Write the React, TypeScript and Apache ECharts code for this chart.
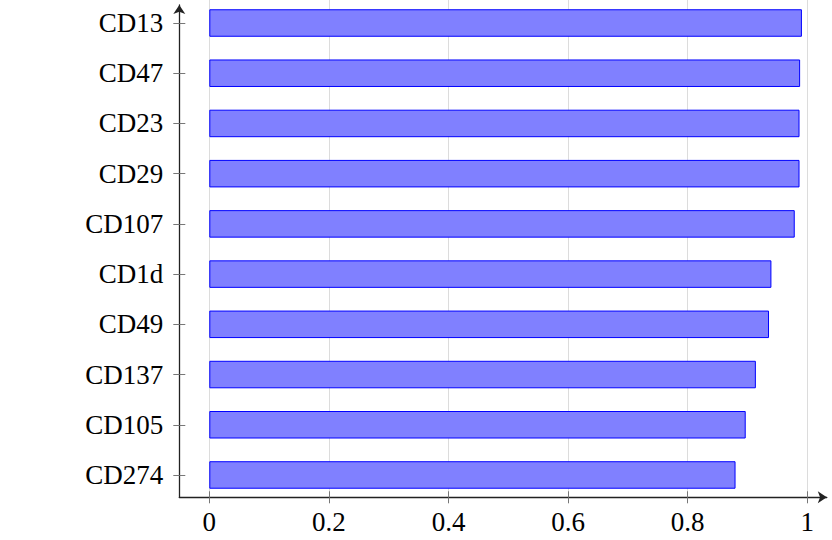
import React, { useEffect, useRef } from 'react';
import * as echarts from 'echarts';

const categories = ['CD13', 'CD47', 'CD23', 'CD29', 'CD107', 'CD1d', 'CD49', 'CD137', 'CD105', 'CD274'];
const values = [0.991, 0.988, 0.987, 0.987, 0.979, 0.940, 0.936, 0.914, 0.897, 0.880];
const xMin = 0;
const xMax = 1;
const xStep = 0.2;

export default function App() {
  const ref = useRef<HTMLDivElement>(null);
  useEffect(() => {
    const chart = echarts.init(ref.current!, null, { renderer: 'svg' });
    const X0 = 209.3;
    const XW = 598;
    const AX = 179.3;
    const AY = 497.3;
    const bandTop = -2.11;
    const bandH = 502.2;
    const font = 'Liberation Serif';
    const fs = 27;
    const axisColor = '#222';
    const tickColor = '#777';
    const g = (o: any) => ({ ...o, containLabel: false, outerBoundsMode: 'none' });
    const grids = [
      g({ left: X0, width: XW, top: bandTop, height: bandH }),
      g({ left: AX, width: XW, top: bandTop, height: bandH }),
      g({ left: AX, width: XW, top: bandTop, height: bandH }),
      g({ left: X0, width: XW, top: 0, height: AY }),
      g({ left: X0, width: XW, top: 0, height: AY }),
      g({ left: AX, width: 826.8 - AX, top: 5, height: AY - 5 }),
    ];
    const hiddenX = (i: number) => ({ gridIndex: i, type: 'value', min: xMin, max: xMax, show: false });
    const hiddenY = (i: number) => ({ gridIndex: i, type: 'value', min: 0, max: 1, show: false });
    const option: any = {
      animation: false,
      grid: grids,
      xAxis: [
        hiddenX(0),
        hiddenX(1),
        hiddenX(2),
        {
          gridIndex: 3, type: 'value', min: xMin, max: xMax, interval: xStep,
          axisLine: { show: false, onZero: false },
          axisTick: { show: true, length: 6, lineStyle: { color: tickColor, width: 1 } },
          axisLabel: { show: true, fontFamily: font, fontSize: fs, color: '#000', margin: 11 },
          splitLine: { show: true, lineStyle: { color: '#dcdcdc', width: 1 } },
        },
        {
          gridIndex: 4, type: 'value', min: xMin, max: xMax, interval: xStep,
          axisLine: { show: false, onZero: false },
          axisTick: { show: true, inside: true, length: 6, lineStyle: { color: tickColor, width: 1 } },
          axisLabel: { show: false },
          splitLine: { show: false },
        },
        {
          gridIndex: 5, type: 'value', min: xMin, max: xMax,
          axisLine: { show: true, onZero: false, symbol: ['none', 'arrow'], symbolSize: [9, 9], lineStyle: { color: axisColor, width: 1.3 } },
          axisTick: { show: false },
          axisLabel: { show: false },
          splitLine: { show: false },
        },
      ],
      yAxis: [
        { gridIndex: 0, type: 'category', data: categories, inverse: true, show: false },
        {
          gridIndex: 1, type: 'category', data: categories, inverse: true,
          axisLine: { show: false, onZero: false },
          axisTick: { show: true, alignWithLabel: true, interval: 0, length: 6, lineStyle: { color: tickColor, width: 1 } },
          axisLabel: { show: true, interval: 0, fontFamily: font, fontSize: fs, color: '#000', margin: 16 },
          splitLine: { show: false },
        },
        {
          gridIndex: 2, type: 'category', data: categories, inverse: true,
          axisLine: { show: false, onZero: false },
          axisTick: { show: true, inside: true, alignWithLabel: true, interval: 0, length: 6, lineStyle: { color: tickColor, width: 1 } },
          axisLabel: { show: false },
          splitLine: { show: false },
        },
        hiddenY(3),
        hiddenY(4),
        {
          gridIndex: 5, type: 'value', min: 0, max: 1,
          axisLine: { show: true, onZero: false, symbol: ['none', 'arrow'], symbolSize: [9, 9], lineStyle: { color: axisColor, width: 1.3 } },
          axisTick: { show: false },
          axisLabel: { show: false },
          splitLine: { show: false },
        },
      ],
      series: [
        {
          type: 'bar',
          xAxisIndex: 0,
          yAxisIndex: 0,
          data: values,
          barWidth: 27.5,
          itemStyle: { color: '#8080ff', borderColor: '#0000ff', borderWidth: 1 },
        },
      ],
    };
    chart.setOption(option);
    return () => chart.dispose();
  }, []);
  return <div ref={ref} style={{ position: 'absolute', left: 0, top: 0, width: 832, height: 540 }} />;
}
